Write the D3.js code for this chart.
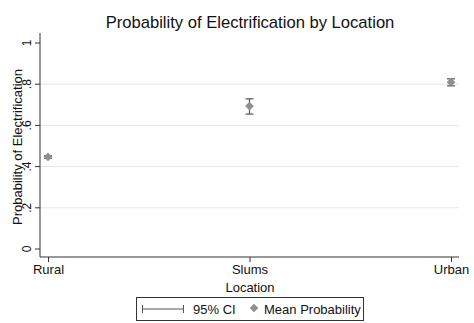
<!DOCTYPE html>
<html>
<head>
<meta charset="utf-8">
<script src="https://cdn.jsdelivr.net/npm/d3@7"></script>
<style>
body { margin: 0; background: #fff; }
text { font-family: "Liberation Sans", Arial, sans-serif; fill: #111; }
</style>
</head>
<body>
<svg></svg>
<script>
var locations = ["Rural", "Slums", "Urban"];
var meanProb = [0.447, 0.694, 0.81];
var ciLow = [0.441, 0.655, 0.792];
var ciHigh = [0.453, 0.729, 0.826];
var yTicks = [0, 0.2, 0.4, 0.6, 0.8, 1];
var yTickLabels = ["0", ".2", ".4", ".6", ".8", "1"];

function draw() {
    var width = 474,
        height = 323;

    var svg = d3.select("svg")
        .attr("width", width)
        .attr("height", height);

    var y = d3.scaleLinear().domain([0, 1]).range([249, 43]);
    var x = d3.scalePoint().domain(locations).range([48, 451]);

    var left = 40, right = 459, bottom = 257, top = 33;

    // grid
    svg.selectAll(".grid")
        .data(yTicks.filter(function(d) { return d > 0 && d < 1; }))
        .enter().append("line")
        .attr("x1", left).attr("x2", right)
        .attr("y1", function(d) { return y(d); })
        .attr("y2", function(d) { return y(d); })
        .attr("stroke", "#e6e6e6")
        .attr("stroke-width", 1);

    // axes
    var yAxis = d3.axisLeft(y).tickValues(yTicks)
        .tickFormat(function(d, i) { return yTickLabels[i]; })
        .tickSize(5).tickPadding(3);
    var gy = svg.append("g").attr("transform", "translate(" + left + ",0)").call(yAxis);
    gy.select(".domain").attr("d", "M0," + top + "V" + bottom);
    gy.selectAll("line").attr("stroke", "#333");
    gy.selectAll("text")
        .attr("font-size", 12)
        .attr("transform", function(d) { return "rotate(-90," + (-8) + "," + y(d) + ")"; })
        .attr("text-anchor", "middle")
        .attr("x", -8)
        .attr("y", function(d) { return y(d); })
        .attr("dy", "-0.1em");
    gy.selectAll(".tick").attr("transform", null);
    gy.selectAll(".tick line")
        .attr("y1", function(d) { return y(d); })
        .attr("y2", function(d) { return y(d); });

    var xAxis = d3.axisBottom(x).tickSize(5).tickPadding(3);
    var gx = svg.append("g").attr("transform", "translate(0," + bottom + ")").call(xAxis);
    gx.select(".domain").attr("d", "M" + left + ",0H" + right);
    gx.selectAll("line").attr("stroke", "#333");
    gx.selectAll("text").attr("font-size", 13);
    svg.selectAll(".domain").attr("stroke", "#333");

    // CI bars
    var ci = svg.selectAll(".ci")
        .data(locations)
        .enter().append("g")
        .attr("stroke", "#555")
        .attr("stroke-width", 1.2);
    ci.append("line")
        .attr("x1", function(d) { return x(d); })
        .attr("x2", function(d) { return x(d); })
        .attr("y1", function(d, i) { return y(ciLow[i]); })
        .attr("y2", function(d, i) { return y(ciHigh[i]); });
    ci.append("line")
        .attr("x1", function(d) { return x(d) - 4; })
        .attr("x2", function(d) { return x(d) + 4; })
        .attr("y1", function(d, i) { return y(ciLow[i]); })
        .attr("y2", function(d, i) { return y(ciLow[i]); });
    ci.append("line")
        .attr("x1", function(d) { return x(d) - 4; })
        .attr("x2", function(d) { return x(d) + 4; })
        .attr("y1", function(d, i) { return y(ciHigh[i]); })
        .attr("y2", function(d, i) { return y(ciHigh[i]); });

    // diamonds
    var diamond = d3.symbol().type(d3.symbolSquare).size(38);
    svg.selectAll(".pt")
        .data(locations)
        .enter().append("path")
        .attr("d", diamond)
        .attr("fill", "#8f8f8f")
        .attr("transform", function(d, i) { return "translate(" + x(d) + "," + y(meanProb[i]) + ") rotate(45)"; });

    // titles
    svg.append("text").attr("x", 250).attr("y", 28)
        .attr("text-anchor", "middle").attr("font-size", 16.6)
        .text("Probability of Electrification by Location");
    svg.append("text").attr("x", 250).attr("y", 292)
        .attr("text-anchor", "middle").attr("font-size", 13)
        .text("Location");
    svg.append("text")
        .attr("transform", "translate(22," + ((top + bottom) / 2 + 2) + ") rotate(-90)")
        .attr("text-anchor", "middle").attr("font-size", 13)
        .text("Probability of Electrification");

    // legend
    var lg = svg.append("g");
    lg.append("rect").attr("x", 136.5).attr("y", 297.5).attr("width", 227).attr("height", 23)
        .attr("fill", "#fff").attr("stroke", "#333");
    lg.append("line").attr("x1", 142).attr("x2", 184).attr("y1", 309).attr("y2", 309)
        .attr("stroke", "#555");
    lg.append("line").attr("x1", 142.5).attr("x2", 142.5).attr("y1", 305).attr("y2", 313)
        .attr("stroke", "#555");
    lg.append("line").attr("x1", 183.5).attr("x2", 183.5).attr("y1", 305).attr("y2", 313)
        .attr("stroke", "#555");
    lg.append("text").attr("x", 193).attr("y", 314).attr("font-size", 13).text("95% CI");
    lg.append("path").attr("d", diamond)
        .attr("fill", "#8f8f8f")
        .attr("transform", "translate(254,308) rotate(45)");
    lg.append("text").attr("x", 264).attr("y", 314).attr("font-size", 13).text("Mean Probability");
}

draw();
</script>
</body>
</html>
